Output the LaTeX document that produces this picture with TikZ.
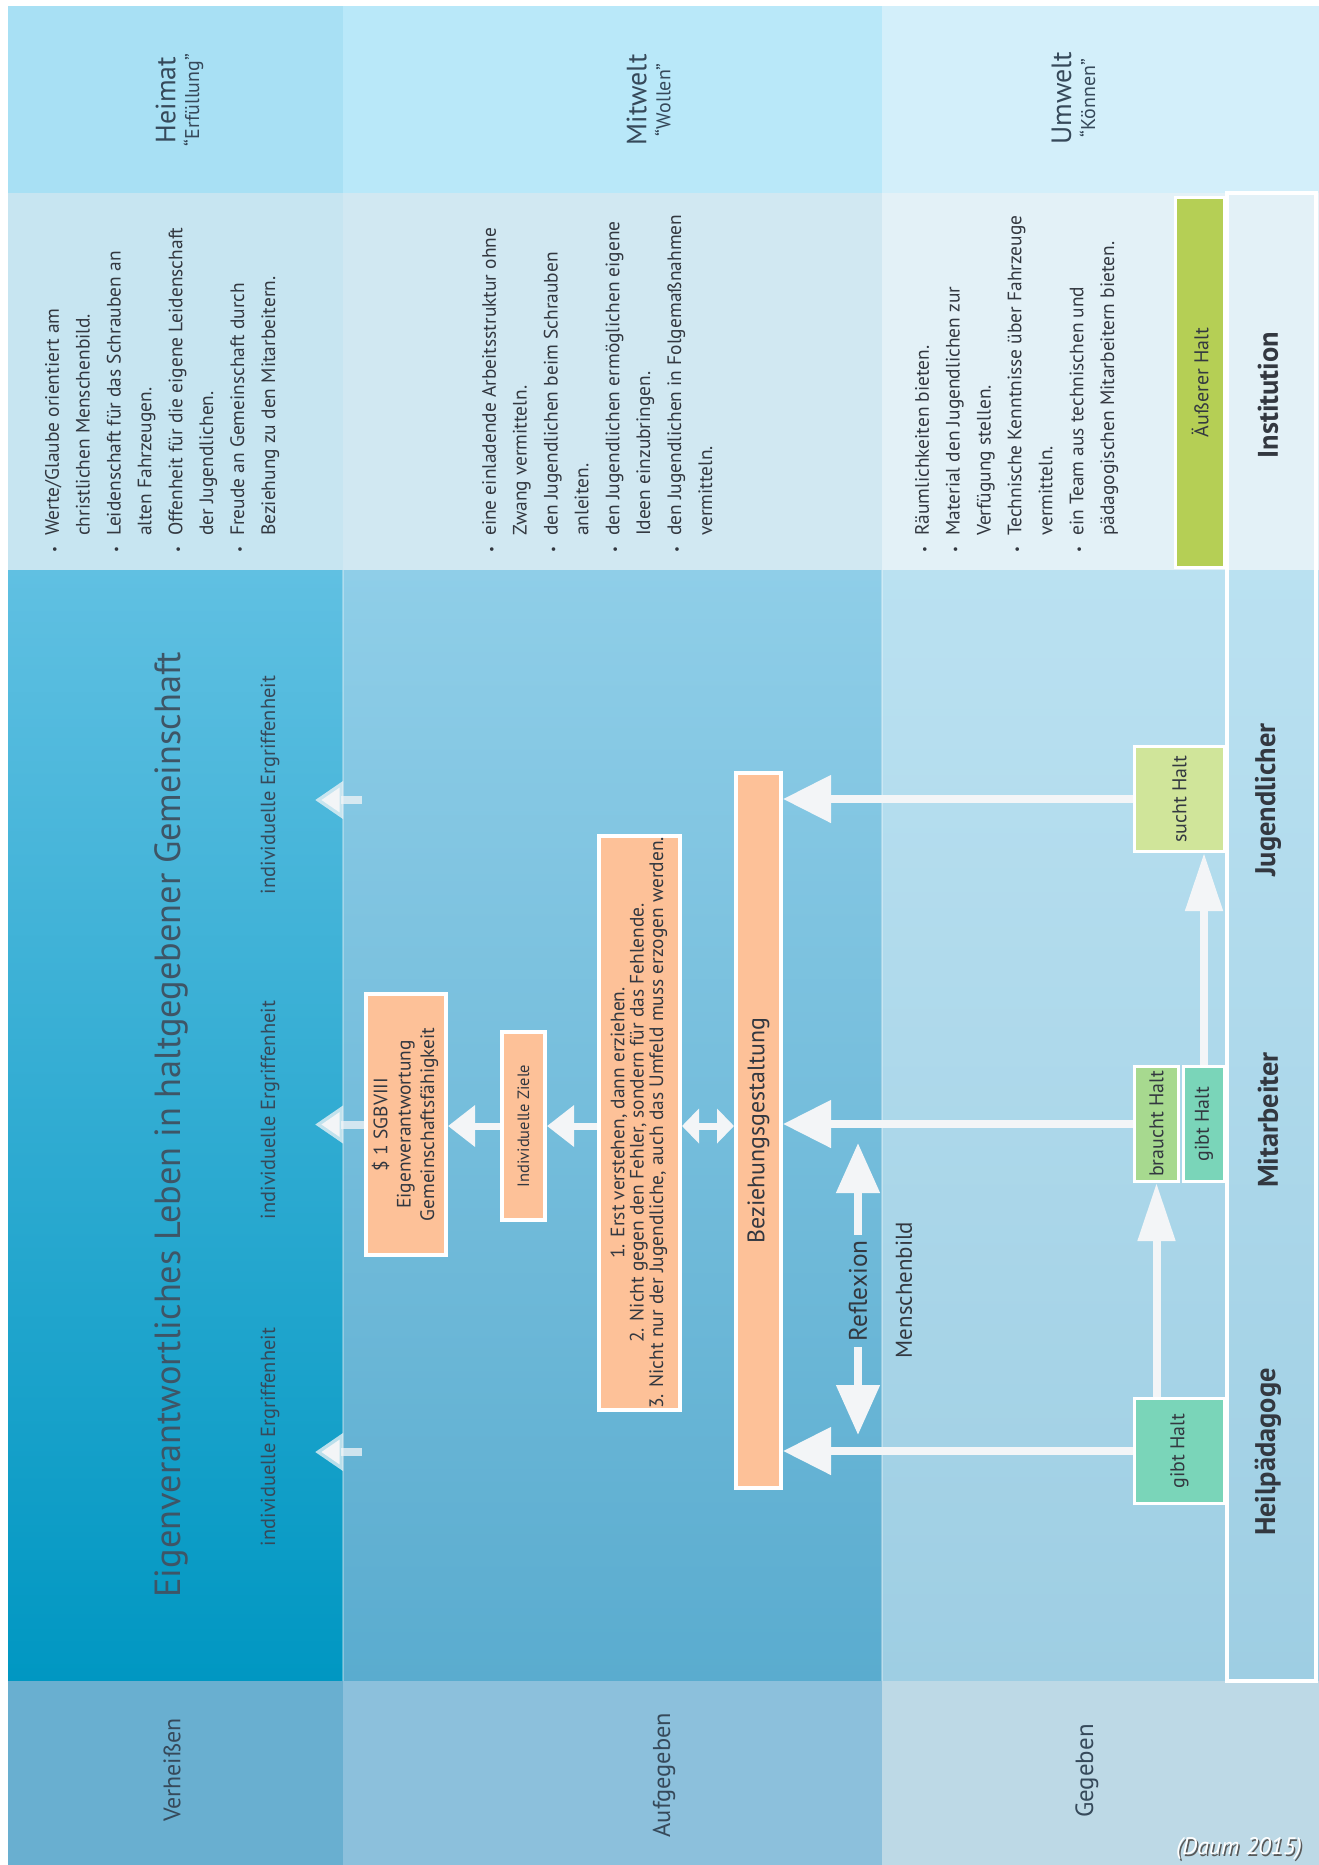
\documentclass[tikz,border=0pt]{standalone}
\usepackage{fontspec}
\setmainfont{PT Sans}
\usepackage{graphicx}
\usetikzlibrary{arrows.meta}
\definecolor{hA}{HTML}{A8E0F4}
\definecolor{hB}{HTML}{B9E8F9}
\definecolor{hC}{HTML}{D3EFFA}
\definecolor{tA}{HTML}{C7E5F1}
\definecolor{tB}{HTML}{D1E8F2}
\definecolor{tC}{HTML}{E3F1F7}
\definecolor{mAt}{HTML}{60C0E2}
\definecolor{mAb}{HTML}{0097C2}
\definecolor{mBt}{HTML}{8FCEE8}
\definecolor{mBb}{HTML}{5AACCF}
\definecolor{mCt}{HTML}{BAE1F1}
\definecolor{mCb}{HTML}{9ECEE3}
\definecolor{bA}{HTML}{69AFD0}
\definecolor{bB}{HTML}{8CC0DC}
\definecolor{bC}{HTML}{BDD9E6}
\definecolor{peach}{HTML}{FDC198}
\definecolor{gyellow}{HTML}{D0E59A}
\definecolor{glight}{HTML}{A7D98F}
\definecolor{gmint}{HTML}{7AD5B9}
\definecolor{olive}{HTML}{B5CF55}
\definecolor{txt}{HTML}{333840}
\definecolor{slate}{HTML}{36495A}
\definecolor{titlec}{HTML}{3E5566}
\definecolor{arw}{HTML}{F3F5F7}
\newcommand\fsz[2]{\fontsize{#1}{#2}\selectfont}
\newcommand\vtxt[1]{\rotatebox{90}{#1}}
\newcommand\bulx{\makebox[17bp][l]{\fsz{13}{13}\textbullet}}
\newcommand\indx{\makebox[17bp]{}}
\tikzset{
  lbl/.style={inner sep=0pt, text=slate},
  bullets/.style={inner sep=0pt, text=txt, anchor=south west, font=\fsz{19.5}{31}},
  box/.style={draw=white, line width=4bp, inner sep=0pt, text=txt},
  sbox/.style={draw=white, line width=3bp, inner sep=0pt, text=txt, font=\fsz{20}{22}},
  pname/.style={inner sep=0pt, text=txt, font=\fsz{28.5}{30}\bfseries},
  bigarr/.style={draw=arw, line width=8bp, -{Triangle[length=48bp,width=46bp]}},
  uparr/.style={draw=arw, line width=8bp, -{Triangle[length=58bp,width=36bp]}},
  midarr/.style={draw=arw, line width=7bp, -{Triangle[length=27bp,width=40bp]}},
  dblarr/.style={draw=arw, line width=7bp, {Triangle[length=17bp,width=34bp]}-{Triangle[length=17bp,width=34bp]}},
  palearr/.style={draw=arw, draw opacity=0.75, line width=8bp, -{Triangle[length=28bp,width=36bp]}},
  refarr/.style={draw=arw, line width=8bp, -{Triangle[length=50bp,width=42bp]}},
}
\begin{document}
\begin{tikzpicture}[x=1bp,y=-1bp]
\useasboundingbox (0,0) rectangle (1319,1865);
\fill[white] (0,0) rectangle (1319,1865);
% header row
\fill[hA] (8,6) rectangle (343,193);
\fill[hB] (343,6) rectangle (882,193);
\fill[hC] (882,6) rectangle (1319,193);
% text row
\fill[tA] (8,193) rectangle (343,570);
\fill[tB] (343,193) rectangle (882,570);
\fill[tC] (882,193) rectangle (1319,570);
% main area
\shade[top color=mAt, bottom color=mAb] (8,570) rectangle (343,1681);
\shade[top color=mBt, bottom color=mBb] (343,570) rectangle (882,1681);
\shade[top color=mCt, bottom color=mCb] (882,570) rectangle (1319,1681);
% bottom row
\fill[bA] (8,1681) rectangle (343,1865);
\fill[bB] (343,1681) rectangle (882,1865);
\fill[bC] (882,1681) rectangle (1319,1865);
% thin separators
\draw[white, opacity=0.3, line width=2bp] (343,570) -- (343,1681);
\draw[white, opacity=0.3, line width=2bp] (882,570) -- (882,1681);
% frame of the persons column
\draw[white, line width=4bp] (1227,193) -- (1227,1681) -- (1316,1681) -- (1316,193) -- cycle;

% headers
\node[lbl] (heimat) at (181,100) {\vtxt{\fsz{20}{24}\begin{tabular}{@{}c@{}}\fsz{28}{24}Heimat\\ “Erfüllung”\end{tabular}}};
\node[lbl] (mitwelt) at (652,100) {\vtxt{\fsz{20}{24}\begin{tabular}{@{}c@{}}\fsz{28}{24}Mitwelt\\ “Wollen”\end{tabular}}};
\node[lbl] (umwelt) at (1077,98) {\vtxt{\fsz{20}{24}\begin{tabular}{@{}c@{}}\fsz{28}{24}Umwelt\\ “Können”\end{tabular}}};

% bullet lists
\node[bullets] (listA) at (37,553) {\vtxt{\begin{tabular}{@{}l@{}}
\bulx Werte/Glaube orientiert am\\
\indx christlichen Menschenbild.\\
\bulx Leidenschaft für das Schrauben an\\
\indx alten Fahrzeugen.\\
\bulx Offenheit für die eigene Leidenschaft\\
\indx der Jugendlichen.\\
\bulx Freude an Gemeinschaft durch\\
\indx Beziehung zu den Mitarbeitern.
\end{tabular}}};
\node[bullets] (listB) at (474,553) {\vtxt{\begin{tabular}{@{}l@{}}
\bulx eine einladende Arbeitsstruktur ohne\\
\indx Zwang vermitteln.\\
\bulx den Jugendlichen beim Schrauben\\
\indx anleiten.\\
\bulx den Jugendlichen ermöglichen eigene\\
\indx Ideen einzubringen.\\
\bulx den Jugendlichen in Folgemaßnahmen\\
\indx vermitteln.
\end{tabular}}};
\node[bullets] (listC) at (907,553) {\vtxt{\begin{tabular}{@{}l@{}}
\bulx Räumlichkeiten bieten.\\
\bulx Material den Jugendlichen zur\\
\indx Verfügung stellen.\\
\bulx Technische Kenntnisse über Fahrzeuge\\
\indx vermitteln.\\
\bulx ein Team aus technischen und\\
\indx pädagogischen Mitarbeitern bieten.
\end{tabular}}};

% column 1 texts
\node[lbl, text=titlec, font=\fsz{36.5}{40}] (title) at (171,1125) {\vtxt{Eigenverantwortliches Leben in haltgegebener Gemeinschaft}};
\node[lbl, font=\fsz{20.5}{24}] (ergA) at (270,785) {\vtxt{individuelle Ergriffenheit}};
\node[lbl, font=\fsz{20.5}{24}] (ergB) at (270,1110) {\vtxt{individuelle Ergriffenheit}};
\node[lbl, font=\fsz{20.5}{24}] (ergC) at (270,1437) {\vtxt{individuelle Ergriffenheit}};

% column 2 boxes
\node[box, fill=peach, minimum width=80bp, minimum height=261bp, font=\fsz{19.5}{23.5}] (sgb) at (406,1124.5) {\vtxt{\begin{tabular}{@{}c@{}}\$ 1 SGBVIII\\ Eigenverantwortung\\ Gemeinschaftsfähigkeit\end{tabular}}};
\node[box, fill=peach, minimum width=43bp, minimum height=188bp, font=\fsz{16.5}{20}] (ziele) at (523.5,1126) {\vtxt{Individuelle Ziele}};
\node[box, fill=peach, minimum width=81bp, minimum height=574bp, font=\fsz{19.5}{18.5}] (prin) at (639.5,1123) {\vtxt{\begin{tabular}{@{}c@{}}1. Erst verstehen, dann erziehen.\\ 2. Nicht gegen den Fehler, sondern für das Fehlende.\\ 3. Nicht nur der Jugendliche, auch das Umfeld muss erzogen werden.\end{tabular}}};
\node[box, fill=peach, minimum width=45bp, minimum height=715bp, font=\fsz{24}{26}] (bez) at (758.5,1130.5) {\vtxt{Beziehungsgestaltung}};

% reflexion / menschenbild
\node[lbl, text=txt, font=\fsz{25.5}{27}, inner sep=5bp] (refl) at (858,1291) {\vtxt{Reflexion}};
\node[lbl, text=txt, font=\fsz{23}{26}] (mensch) at (904,1290) {\vtxt{Menschenbild}};
\coordinate (rtop) at (858,1143);
\coordinate (rbot) at (858,1435);

% column 3 boxes
\node[sbox, fill=olive, minimum width=49bp, minimum height=370bp] (aeh) at (1200,382.5) {\vtxt{Äußerer Halt}};
\node[sbox, fill=gyellow, minimum width=90bp, minimum height=105bp] (sucht) at (1179.5,799) {\vtxt{sucht Halt}};
\node[sbox, fill=glight, minimum width=44bp, minimum height=115bp] (braucht) at (1156.5,1124) {\vtxt{braucht Halt}};
\node[sbox, fill=gmint, minimum width=41bp, minimum height=115bp] (gibtM) at (1204,1124) {\vtxt{gibt Halt}};
\node[sbox, fill=gmint, minimum width=90bp, minimum height=105bp] (gibtH) at (1179.5,1451) {\vtxt{gibt Halt}};

% persons
\node[pname] (inst) at (1268,395) {\vtxt{Institution}};
\node[pname] (jug) at (1268,800) {\vtxt{Jugendlicher}};
\node[pname] (mita) at (1268,1120) {\vtxt{Mitarbeiter}};
\node[pname] (heilp) at (1268,1452) {\vtxt{Heilpädagoge}};

% bottom labels
\node[lbl, font=\fsz{24}{28}] (verh) at (172,1770) {\vtxt{Verheißen}};
\node[lbl, font=\fsz{24.5}{28}] (aufg) at (664,1775) {\vtxt{Aufgegeben}};
\node[lbl, font=\fsz{25}{28}] (geg) at (1087,1771) {\vtxt{Gegeben}};

% source
\node[inner sep=0pt, text=gray!70!black, font=\fsz{24}{26}\itshape] (daumsh) at (1240.5,1850.5) {(Daum 2015)};
\node[inner sep=0pt, text=white, font=\fsz{24}{26}\itshape] (daum) at (1239,1849) {(Daum 2015)};

% arrows
\draw[bigarr] (sucht.west) -- (sucht.west -| bez.east);
\draw[bigarr] (braucht.west) -- (braucht.west -| bez.east);
\draw[bigarr] (gibtH.west) -- (gibtH.west -| bez.east);
\draw[uparr] (gibtH.north -| braucht.south) -- (braucht.south);
\draw[uparr] (gibtM.north) -- (gibtM.north |- sucht.south);
\draw[refarr] (refl.north) -- (rtop);
\draw[refarr] (refl.south) -- (rbot);
\draw[dblarr] (prin.east |- ziele.east) -- (bez.west |- ziele.east);
\draw[midarr] (prin.west |- ziele.east) -- (ziele.east);
\draw[midarr] (ziele.west) -- (ziele.west -| sgb.east);
\coordinate (pA1) at (362,800);
\coordinate (pA2) at (315,800);
\coordinate (pB2) at (315,1124.5);
\coordinate (pC1) at (362,1452);
\coordinate (pC2) at (315,1452);
\draw[palearr] (pA1) -- (pA2);
\draw[palearr] (sgb.west) -- (pB2);
\draw[palearr] (pC1) -- (pC2);
\end{tikzpicture}
\end{document}
